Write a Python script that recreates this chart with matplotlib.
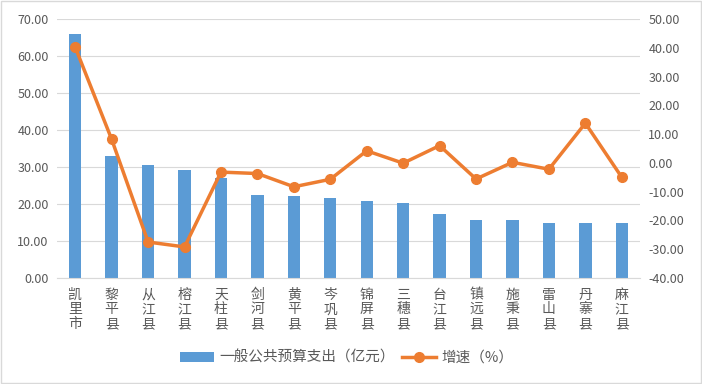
import numpy as np
import matplotlib
matplotlib.use('Agg')
import matplotlib.pyplot as plt
from matplotlib.lines import Line2D
from matplotlib.patches import Patch

plt.rcParams['font.family'] = ['Noto Sans CJK SC', 'DejaVu Sans']

# Data
counties = ['凯里市', '黎平县', '从江县', '榕江县', '天柱县', '剑河县', '黄平县', '岑巩县',
            '锦屏县', '三穗县', '台江县', '镇远县', '施秉县', '雷山县', '丹寨县', '麻江县']
spending = [65.9, 33.1, 30.6, 29.3, 27.1, 22.3, 22.2, 21.7,
            20.9, 20.3, 17.3, 15.7, 15.7, 14.9, 14.9, 14.9]
growth = [40.2, 8.2, -27.5, -29.2, -3.2, -3.7, -8.3, -5.7,
          4.2, -0.1, 6.0, -5.6, 0.2, -2.2, 13.8, -5.0]

bar_color = '#5b9bd5'
line_color = '#ed7d31'
text_color = '#595959'

fig = plt.figure(figsize=(7.02, 3.84), dpi=100)
ax = fig.add_axes([57 / 702, 1 - 278 / 384, 583 / 702, 259 / 384])
x = np.arange(len(counties))

ax.bar(x, spending, width=0.34, color=bar_color, zorder=2)
ax.set_xlim(-0.5, len(counties) - 0.5)
ax.set_ylim(0, 70)
ax.set_yticks(np.arange(0, 71, 10))
ax.set_yticklabels([f'{v:.2f}' for v in np.arange(0, 71, 10)])
ax.grid(axis='y', color='#d9d9d9', linewidth=0.8, zorder=0)
ax.set_xticks(x)
ax.set_xticklabels(['\n'.join(c) for c in counties], linespacing=1.05)
ax.tick_params(axis='x', length=0, pad=7, labelsize=10, colors=text_color)
ax.tick_params(axis='y', length=0, pad=6, labelsize=9, colors=text_color)
for s in ['top', 'right', 'left']:
    ax.spines[s].set_visible(False)
ax.spines['bottom'].set_color('#d9d9d9')

ax2 = ax.twinx()
ax2.plot(x, growth, color=line_color, linewidth=2.5, marker='o', markersize=7, zorder=3)
ax2.set_ylim(-40, 50)
ax2.set_yticks(np.arange(-40, 51, 10))
ax2.set_yticklabels([f'{v:.2f}' for v in np.arange(-40, 51, 10)])
ax2.tick_params(axis='y', length=0, pad=6, labelsize=9, colors=text_color)
for s in ['top', 'right', 'left', 'bottom']:
    ax2.spines[s].set_visible(False)

handles = [Patch(facecolor=bar_color, edgecolor='none'),
           Line2D([0], [0], color=line_color, linewidth=2.5, marker='o', markersize=7)]
fig.legend(handles, ['一般公共预算支出（亿元）', '增速（%）'], loc='center',
           bbox_to_anchor=(347 / 702, 1 - 358 / 384), ncol=2, frameon=False,
           fontsize=10.5, labelcolor=text_color, handlelength=2.3, columnspacing=0.5,
           handletextpad=0.4)

# light border around the figure
fig.patches.append(plt.Rectangle((0.002, 0.003), 0.996, 0.994, transform=fig.transFigure,
                                 fill=False, edgecolor='#d9d9d9', linewidth=1))

fig.savefig('out.png', dpi=100)
